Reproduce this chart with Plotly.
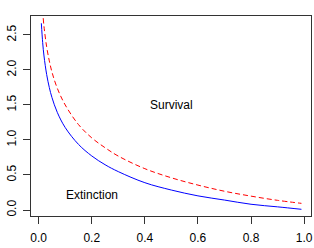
import plotly.graph_objects as go

# values
x_blue = [0.01, 0.015, 0.02, 0.03, 0.04, 0.05, 0.07, 0.10, 0.15, 0.20, 0.25, 0.30,
          0.40, 0.50, 0.60, 0.70, 0.80, 0.90, 0.99]
y_blue = [2.667, 2.39, 2.20, 1.935, 1.75, 1.606, 1.395, 1.177, 0.937, 0.772, 0.647, 0.548,
          0.39, 0.285, 0.202, 0.142, 0.082, 0.045, 0.01]

x_red = [0.017, 0.02, 0.03, 0.04, 0.05, 0.07, 0.10, 0.15, 0.20, 0.25, 0.30,
         0.40, 0.50, 0.60, 0.70, 0.80, 0.90, 0.99]
y_red = [2.74, 2.62, 2.33, 2.13, 1.97, 1.74, 1.50, 1.22, 1.03, 0.89, 0.77,
         0.59, 0.46, 0.356, 0.268, 0.198, 0.138, 0.095]

x_ticks = [0.0, 0.2, 0.4, 0.6, 0.8, 1.0]
x_tick_labels = ["0.0", "0.2", "0.4", "0.6", "0.8", "1.0"]
y_ticks = [0.0, 0.5, 1.0, 1.5, 2.0, 2.5]
y_tick_labels = ["0.0", "0.5", "1.0", "1.5", "2.0", "2.5"]

labels = ["Survival", "Extinction"]
label_x = [0.50, 0.20]
label_y = [1.50, 0.22]

FONT = "Liberation Sans, Arial, Helvetica, sans-serif"
AX = "#333333"

fig = go.Figure()
fig.add_trace(go.Scatter(x=x_blue, y=y_blue, mode="lines",
                         line=dict(color="#0000FF", width=1, shape="spline"),
                         showlegend=False, hoverinfo="skip"))
fig.add_trace(go.Scatter(x=x_red, y=y_red, mode="lines",
                         line=dict(color="#FF0000", width=1, dash="5px,3px", shape="spline"),
                         showlegend=False, hoverinfo="skip"))

for t, tx, ty in zip(labels, label_x, label_y):
    fig.add_annotation(x=tx, y=ty, text=t, showarrow=False,
                       font=dict(family=FONT, size=12, color="black"),
                       xanchor="center", yanchor="middle")

axis_common = dict(showgrid=False, zeroline=False, showline=True, mirror=True,
                   linecolor=AX, linewidth=1, ticks="outside", ticklen=7,
                   tickwidth=1, tickcolor=AX, automargin=False,
                   tickfont=dict(family=FONT, size=12, color="black"))

fig.update_xaxes(range=[-0.029, 1.026], tickvals=x_ticks, ticktext=x_tick_labels,
                 ticklabelstandoff=4, **axis_common)
fig.update_yaxes(range=[-0.0857, 2.771], tickvals=y_ticks, ticktext=y_tick_labels,
                 tickangle=-90, ticklabelstandoff=2, **axis_common)

fig.update_layout(width=314, height=248,
                  margin=dict(l=31, r=3, t=16, b=32),
                  paper_bgcolor="white", plot_bgcolor="white")

# remove the browser's default body margin so the figure fills the window
fig.write_html("out.html",
               config={"displayModeBar": False, "staticPlot": True},
               post_script="document.body.style.margin='0';document.body.style.overflow='hidden';")
